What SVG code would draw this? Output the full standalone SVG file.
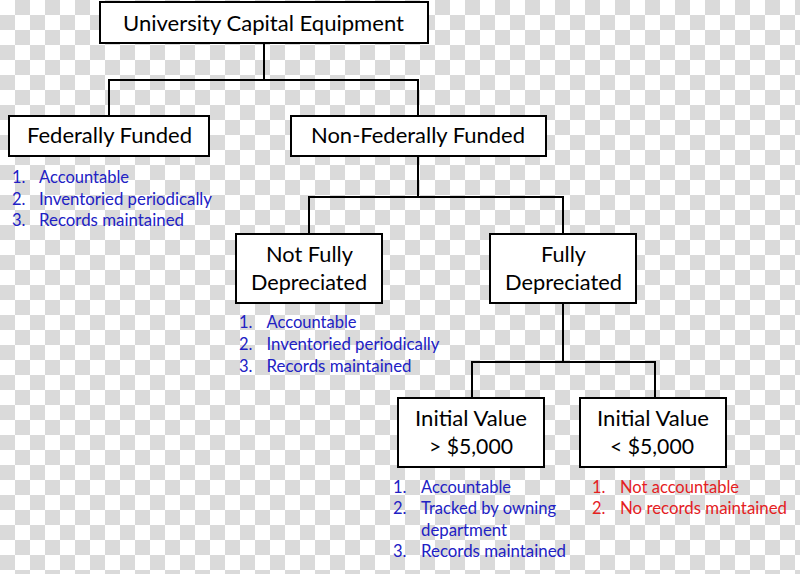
<svg xmlns="http://www.w3.org/2000/svg" width="800" height="574" viewBox="0 0 800 574">
<defs>
<pattern id="checker" x="0" y="0" width="30" height="30" patternUnits="userSpaceOnUse">
<rect x="0" y="0" width="30" height="30" fill="#ffffff"/>
<rect x="15" y="0" width="15" height="15" fill="#dadada"/>
<rect x="0" y="15" width="15" height="15" fill="#dadada"/>
</pattern>
</defs>
<style>
.box{fill:#ffffff;stroke:#000000;stroke-width:2}
.conn{fill:none;stroke:#000000;stroke-width:2}
.nt{font-family:Lato,"Liberation Sans",sans-serif;font-size:21.5px;fill:#000000}
.lb{font-family:Lato,"Liberation Sans",sans-serif;font-size:16.5px;fill:#2121c4}
.lr{font-family:Lato,"Liberation Sans",sans-serif;font-size:16.5px;fill:#e4211f}
</style>
<rect x="0" y="0" width="800" height="574" fill="url(#checker)"/>
<g id="connectors">
<path class="conn" d="M264 43V80M109 116V80H418V116"/>
<path class="conn" d="M418 156V197M309 234V197H563V234"/>
<path class="conn" d="M563 303V362M472 398V362H655V398"/>
</g>
<g id="node-university">
<rect class="box" x="100" y="2" width="328" height="41"/>
<text class="nt" x="123" y="31" font-size="22.5" textLength="281" lengthAdjust="spacingAndGlyphs">University Capital Equipment</text>
</g>
<g id="node-federally">
<rect class="box" x="9" y="116" width="200" height="40"/>
<text class="nt" x="27" y="143" textLength="165" lengthAdjust="spacingAndGlyphs">Federally Funded</text>
</g>
<g id="node-nonfederally">
<rect class="box" x="291" y="116" width="255" height="40"/>
<text class="nt" x="311" y="143" textLength="214" lengthAdjust="spacingAndGlyphs">Non-Federally Funded</text>
</g>
<g id="node-notfully">
<rect class="box" x="236" y="234" width="146" height="69"/>
<text class="nt" x="266" y="262" textLength="87" lengthAdjust="spacingAndGlyphs">Not Fully</text>
<text class="nt" x="251" y="290" textLength="116" lengthAdjust="spacingAndGlyphs">Depreciated</text>
</g>
<g id="node-fully">
<rect class="box" x="490" y="234" width="146" height="69"/>
<text class="nt" x="541" y="262" textLength="45" lengthAdjust="spacingAndGlyphs">Fully</text>
<text class="nt" x="505" y="290" textLength="117" lengthAdjust="spacingAndGlyphs">Depreciated</text>
</g>
<g id="node-over5000">
<rect class="box" x="398" y="398" width="146" height="69"/>
<text class="nt" x="415" y="426" textLength="112" lengthAdjust="spacingAndGlyphs">Initial Value</text>
<text class="nt" x="429" y="454" textLength="84" lengthAdjust="spacingAndGlyphs">&gt; $5,000</text>
</g>
<g id="node-under5000">
<rect class="box" x="580" y="398" width="146" height="69"/>
<text class="nt" x="597" y="426" textLength="112" lengthAdjust="spacingAndGlyphs">Initial Value</text>
<text class="nt" x="610" y="454" textLength="84" lengthAdjust="spacingAndGlyphs">&lt; $5,000</text>
</g>
<g id="list-federally">
<text class="lb" x="12" y="183">1.</text>
<text class="lb" x="39" y="183" textLength="90" lengthAdjust="spacingAndGlyphs">Accountable</text>
<text class="lb" x="12" y="204.5">2.</text>
<text class="lb" x="39" y="204.5" textLength="173" lengthAdjust="spacingAndGlyphs">Inventoried periodically</text>
<text class="lb" x="12" y="226">3.</text>
<text class="lb" x="39" y="226" textLength="145" lengthAdjust="spacingAndGlyphs">Records maintained</text>
</g>
<g id="list-notfully">
<text class="lb" x="239" y="328">1.</text>
<text class="lb" x="266.5" y="328" textLength="90" lengthAdjust="spacingAndGlyphs">Accountable</text>
<text class="lb" x="239" y="350">2.</text>
<text class="lb" x="266.5" y="350" textLength="173" lengthAdjust="spacingAndGlyphs">Inventoried periodically</text>
<text class="lb" x="239" y="371.5">3.</text>
<text class="lb" x="266.5" y="371.5" textLength="145" lengthAdjust="spacingAndGlyphs">Records maintained</text>
</g>
<g id="list-over5000">
<text class="lb" x="393" y="492.5">1.</text>
<text class="lb" x="421" y="492.5" textLength="90" lengthAdjust="spacingAndGlyphs">Accountable</text>
<text class="lb" x="393" y="514">2.</text>
<text class="lb" x="421" y="514" textLength="135" lengthAdjust="spacingAndGlyphs">Tracked by owning</text>
<text class="lb" x="421" y="535.5" textLength="86" lengthAdjust="spacingAndGlyphs">department</text>
<text class="lb" x="393" y="557">3.</text>
<text class="lb" x="421" y="557" textLength="145" lengthAdjust="spacingAndGlyphs">Records maintained</text>
</g>
<g id="list-under5000">
<text class="lr" x="592" y="492.5">1.</text>
<text class="lr" x="620" y="492.5" textLength="119" lengthAdjust="spacingAndGlyphs">Not accountable</text>
<text class="lr" x="592" y="514">2.</text>
<text class="lr" x="620" y="514" textLength="167" lengthAdjust="spacingAndGlyphs">No records maintained</text>
</g>
</svg>
